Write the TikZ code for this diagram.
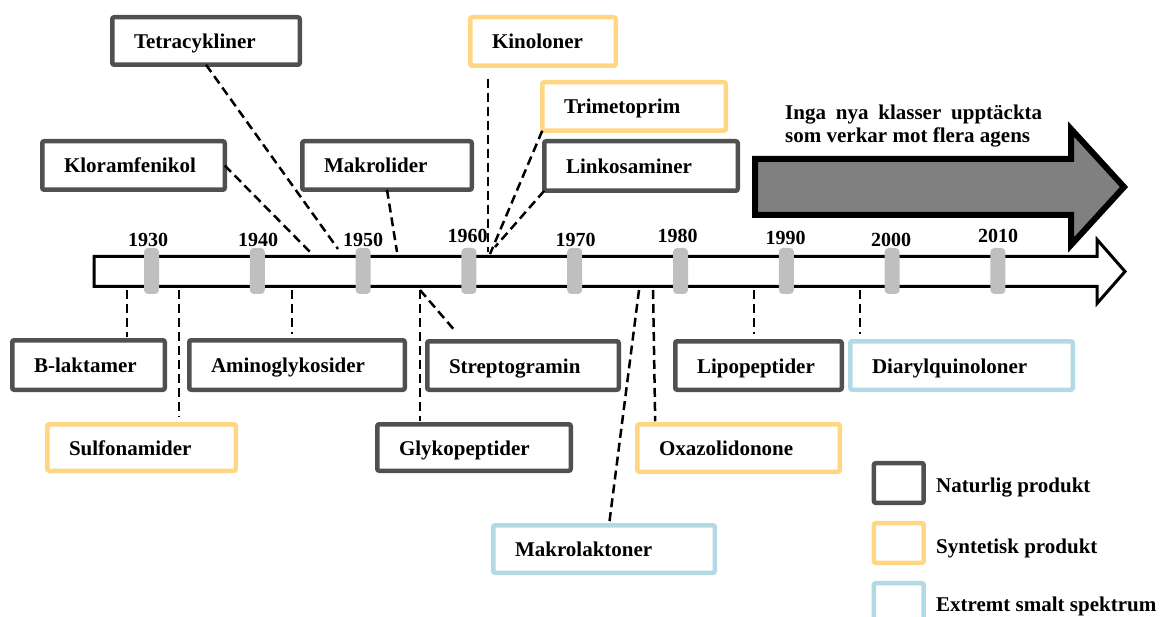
\documentclass[tikz,border=0pt]{standalone}
\usepackage{fontspec}
\setmainfont{Liberation Serif}
\usetikzlibrary{calc}
\definecolor{natc}{RGB}{80,80,80}
\definecolor{sync}{RGB}{255,215,130}
\definecolor{extc}{RGB}{178,217,228}
\definecolor{tickc}{RGB}{191,191,191}
\definecolor{bigc}{RGB}{128,128,128}
\hyphenpenalty=10000
\exhyphenpenalty=10000
\newcommand\tlbox[7]{%
 \pgfmathsetmacro\myW{#5-#3-4.5}%
 \pgfmathsetmacro\myH{#6-#4-4.5}%
 \pgfmathsetmacro\myT{#5-#3-4.5-43.5}%
 \pgfmathsetmacro\myX{(#3+#5)/2}%
 \pgfmathsetmacro\myY{(#4+#6)/2}%
 \node[tlb,#2,minimum width=\myW pt,minimum height=\myH pt,text width=\myT pt] (#1) at (\myX,\myY) {#7};}
\tikzset{
 tlb/.style={draw, line width=4.5pt, rounded corners=2pt, fill=white, inner xsep=21.75pt, inner ysep=0pt,
   align=left, text height=19pt, text depth=4pt, font=\fontsize{21}{24}\selectfont\bfseries, outer sep=0pt},
 nat/.style={draw=natc},
 syn/.style={draw=sync},
 ext/.style={draw=extc},
 yr/.style={font=\fontsize{20}{24}\selectfont\bfseries, anchor=base, inner sep=0pt},
 tickmark/.style={fill=tickc, rounded corners=4pt, minimum width=15pt, minimum height=46pt, inner sep=0pt, draw=none},
 conn/.style={line width=2.5pt, dash pattern=on 9pt off 5pt},
 lgbox/.style={draw, line width=4.5pt, rounded corners=2pt, fill=white, minimum width=49.8pt, minimum height=39.8pt, inner sep=0pt},
 lgtext/.style={font=\fontsize{21}{24}\selectfont\bfseries, anchor=base west, inner sep=0pt},
 notetext/.style={font=\fontsize{21}{24}\selectfont\bfseries, anchor=base west, inner sep=0pt}
}
\begin{document}
\begin{tikzpicture}[x=1pt,y=-1pt]
\clip (0,0) rectangle (1166,617);
\fill[white] (0,0) rectangle (1166,617);
% big arrow
\draw[line width=6pt, fill=bigc, miter limit=10] (755,159) -- (1071,159) -- (1071,129) -- (1124,187) -- (1071,245) -- (1071,215) -- (755,215) -- cycle;
\node[notetext] (note1) at (785,119.3) {\makebox[257pt][s]{Inga nya klasser upptäckta}};
\node[notetext] (note2) at (785,142.7) {som verkar mot flera agens};
% timeline
\draw[line width=3pt, fill=white, miter limit=10] (94,256.5) -- (1097,256.5) -- (1097,239.5) -- (1125,271.5) -- (1097,303.5) -- (1097,286.5) -- (94,286.5) -- cycle;
\foreach \yy/\tx/\lx/\ly in {1930/151.5/148/247, 1940/257.3/258/247, 1950/363.1/363/247, 1960/468.9/467.5/243, 1970/574.7/575.5/247, 1980/680.5/677.5/243, 1990/786.3/785.5/245, 2000/892.1/891/247, 2010/997.9/998/243}{
  \node[tickmark] (t\yy) at (\tx,271) {};
  \node[yr] (y\yy) at (\lx,\ly) {\yy};
}
% boxes
\tlbox{tet}{nat}{110}{15}{302}{67}{Tetracykliner}
\tlbox{klo}{nat}{40}{139}{227}{192}{Kloramfenikol}
\tlbox{mkl}{nat}{300}{139}{474}{192}{Makrolider}
\tlbox{lin}{nat}{542}{139}{740}{193}{Linkosaminer}
\tlbox{kin}{syn}{468}{15}{618}{68}{Kinoloner}
\tlbox{tri}{syn}{540}{80}{728}{133}{Trimetoprim}
\tlbox{blak}{nat}{10}{338}{167}{392}{B-laktamer}
\tlbox{amg}{nat}{187}{338}{407}{392}{Aminoglykosider}
\tlbox{str}{nat}{425}{339}{621}{392}{Streptogramin}
\tlbox{gly}{nat}{375}{422}{573}{473}{Glykopeptider}
\tlbox{lip}{nat}{673}{339}{844}{392}{Lipopeptider}
\tlbox{sul}{syn}{45}{422}{238}{473}{Sulfonamider}
\tlbox{oxa}{syn}{635}{422}{842}{474}{Oxazolidonone}
\tlbox{mlk}{ext}{491}{523}{717}{575}{Makrolaktoner}
\tlbox{dia}{ext}{848}{339}{1075}{392}{Diarylquinoloner}
% top connectors
\coordinate (eTet) at (338,249);
\coordinate (eKlo) at (313,255);
\coordinate (eMkl) at (397,252);
\coordinate (eKin) at (488,252);
\coordinate (eTri) at (490,254);
\coordinate (eLin) at (495,247);
\draw[conn] (tet.south) -- (eTet);
\draw[conn] (klo.east) -- (eKlo);
\draw[conn] (mkl.south) -- (eMkl);
\draw[conn, shorten <=13pt] (kin.south -| eKin) -- (eKin);
\draw[conn] (tri.south west) -- (eTri);
\draw[conn] (lin.south west) -- (eLin);
% bottom connectors
\coordinate (sBla) at (127,290);
\coordinate (sSul) at (179,290);
\coordinate (sAmg) at (292,290);
\coordinate (sGly) at (420,290);
\coordinate (eStr) at (456,332);
\coordinate (sMlk) at (639,290);
\coordinate (sOxa) at (653,290);
\coordinate (sLip) at (754,290);
\coordinate (sDia) at (860,290);
\draw[conn, shorten >=3pt] (sBla) -- (sBla |- blak.north);
\draw[conn, shorten >=8pt] (sSul) -- (sSul |- sul.north);
\draw[conn, shorten >=6pt] (sAmg) -- (sAmg |- amg.north);
\draw[conn, shorten >=3pt] (sGly) -- (sGly |- gly.north);
\draw[conn] (sGly) -- (eStr);
\draw[conn, shorten >=3pt] (sMlk) -- ([xshift=5pt]mlk.north);
\draw[conn, shorten >=3pt] (sOxa) -- ([xshift=18pt]oxa.north west);
\draw[conn, shorten >=7pt] (sLip) -- (sLip |- lip.north);
\draw[conn, shorten >=7pt] (sDia) -- (sDia |- dia.north);
% legend
\node[lgbox, draw=natc] (lgN) at (898.8,483) {};
\node[lgbox, draw=sync] (lgS) at (898.8,543) {};
\node[lgbox, draw=extc] (lgE) at (898.8,603) {};
\node[lgtext] (lgNt) at (936,492.5) {Naturlig produkt};
\node[lgtext] (lgSt) at (936,553) {Syntetisk produkt};
\node[lgtext] (lgEt) at (936,611.5) {Extremt smalt spektrum};
\end{tikzpicture}
\end{document}
